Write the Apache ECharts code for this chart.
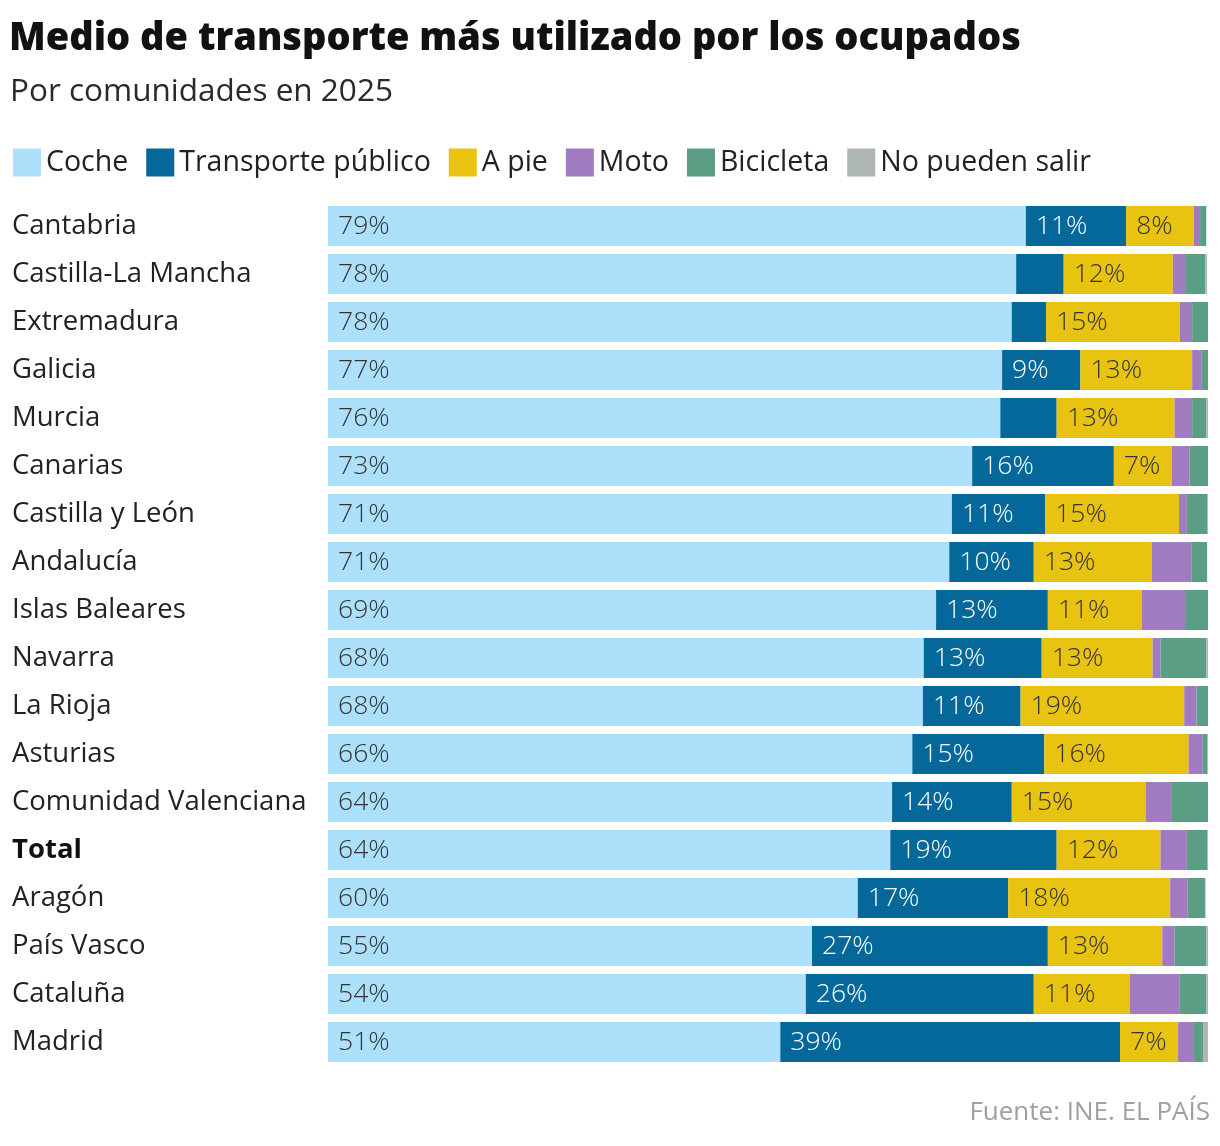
<!DOCTYPE html>
<html>
<head>
<meta charset="utf-8">
<script src="https://cdn.jsdelivr.net/npm/echarts@6/dist/echarts.min.js"></script>
<style>
  html, body { margin: 0; padding: 0; background: #fff; }
  #chart { width: 1220px; height: 1146px; }
</style>
</head>
<body>
<div id="chart"></div>
<script>
// comunidades, de arriba abajo
var regions = ['Cantabria', 'Castilla-La Mancha', 'Extremadura', 'Galicia', 'Murcia', 'Canarias',
  'Castilla y León', 'Andalucía', 'Islas Baleares', 'Navarra', 'La Rioja', 'Asturias',
  'Comunidad Valenciana', 'Total', 'Aragón', 'País Vasco', 'Cataluña', 'Madrid'];

// porcentajes
var coche      = [79.3, 78.2, 77.7, 76.6, 76.4, 73.2, 70.9, 70.6, 69.1, 67.7, 67.6, 66.4, 64.1, 63.9, 60.2, 55.0, 54.3, 51.4];
var transporte = [11.4, 5.4, 3.9, 8.9, 6.4, 16.1, 10.6, 9.6, 12.7, 13.4, 11.1, 15.0, 13.6, 18.9, 17.1, 26.8, 25.9, 38.6];
var aPie       = [7.7, 12.4, 15.2, 12.7, 13.4, 6.6, 15.2, 13.4, 10.7, 12.6, 18.6, 16.4, 15.2, 11.8, 18.4, 13.0, 10.9, 6.6];
var moto       = [0.7, 1.4, 1.4, 1.1, 2.0, 2.0, 0.9, 4.5, 5.0, 0.9, 1.4, 1.6, 3.0, 3.0, 2.0, 1.4, 5.7, 1.8];
var bici       = [0.7, 2.3, 1.8, 0.7, 1.6, 2.3, 2.3, 1.8, 2.5, 5.2, 1.6, 0.5, 4.1, 2.3, 2.0, 3.6, 3.0, 1.1];
var noSalen    = [0, 0.2, 0, 0.2, 0.2, 0, 0.2, 0, 0, 0.2, 0, 0.2, 0, 0.2, 0, 0.2, 0.2, 0.5];

var FONT = 'Open Sans';

var chart = echarts.init(document.getElementById('chart'));

function makeSeries(name, data, color, labelColor) {
  return {
    name: name,
    type: 'bar',
    stack: 'total',
    barWidth: 40,
    data: data,
    itemStyle: { color: color },
    emphasis: { disabled: true },
    label: {
      show: true,
      position: 'insideLeft',
      distance: 10,
      fontFamily: FONT,
      fontSize: 26.5,
      fontWeight: 300,
      color: labelColor,
      formatter: function (p) {
        return p.value >= 6.5 ? Math.round(p.value) + '%' : '';
      }
    }
  };
}

var option = {
  animation: false,
  title: [{
    text: 'Medio de transporte más utilizado por los ocupados',
    left: 9,
    top: 20,
    padding: 0,
    textStyle: { fontFamily: FONT, fontSize: 38, fontWeight: 800, color: '#111' }
  }, {
    text: 'Por comunidades en 2025',
    left: 10,
    top: 76,
    padding: 0,
    textStyle: { fontFamily: FONT, fontSize: 31.5, fontWeight: 400, color: '#2a2a2a' }
  }, {
    text: 'Fuente: INE. EL PAÍS',
    right: 10,
    top: 1100,
    padding: 0,
    textStyle: { fontFamily: FONT, fontSize: 26, fontWeight: 400, color: '#a0a0a0' }
  }],
  legend: {
    left: 8,
    top: 143,
    icon: 'rect',
    itemWidth: 28,
    itemHeight: 28,
    itemGap: 18,
    textStyle: { fontFamily: FONT, fontSize: 28.5, color: '#222' },
    selectedMode: false,
    data: ['Coche', 'Transporte público', 'A pie', 'Moto', 'Bicicleta', 'No pueden salir']
  },
  grid: { left: 328, right: 12, top: 202, height: 864 },
  xAxis: {
    type: 'value',
    min: 0,
    max: 100,
    show: false
  },
  yAxis: {
    type: 'category',
    inverse: true,
    data: regions,
    axisLine: { show: false },
    axisTick: { show: false },
    axisLabel: {
      align: 'left',
      margin: 316,
      fontFamily: FONT,
      fontSize: 27.5,
      color: '#222',
      formatter: function (v) {
        return v === 'Total' ? '{b|' + v + '}' : v;
      },
      rich: {
        b: { fontFamily: FONT, fontSize: 27.5, fontWeight: 'bold', color: '#111' }
      }
    }
  },
  series: [
    makeSeries('Coche', coche, '#ade1fb', '#333'),
    makeSeries('Transporte público', transporte, '#05689a', '#fff'),
    makeSeries('A pie', aPie, '#e8c30f', '#333'),
    makeSeries('Moto', moto, '#a07bc0', '#333'),
    makeSeries('Bicicleta', bici, '#5b9e84', '#333'),
    makeSeries('No pueden salir', noSalen, '#aeb5b5', '#333')
  ]
};

chart.setOption(option);
</script>
</body>
</html>
